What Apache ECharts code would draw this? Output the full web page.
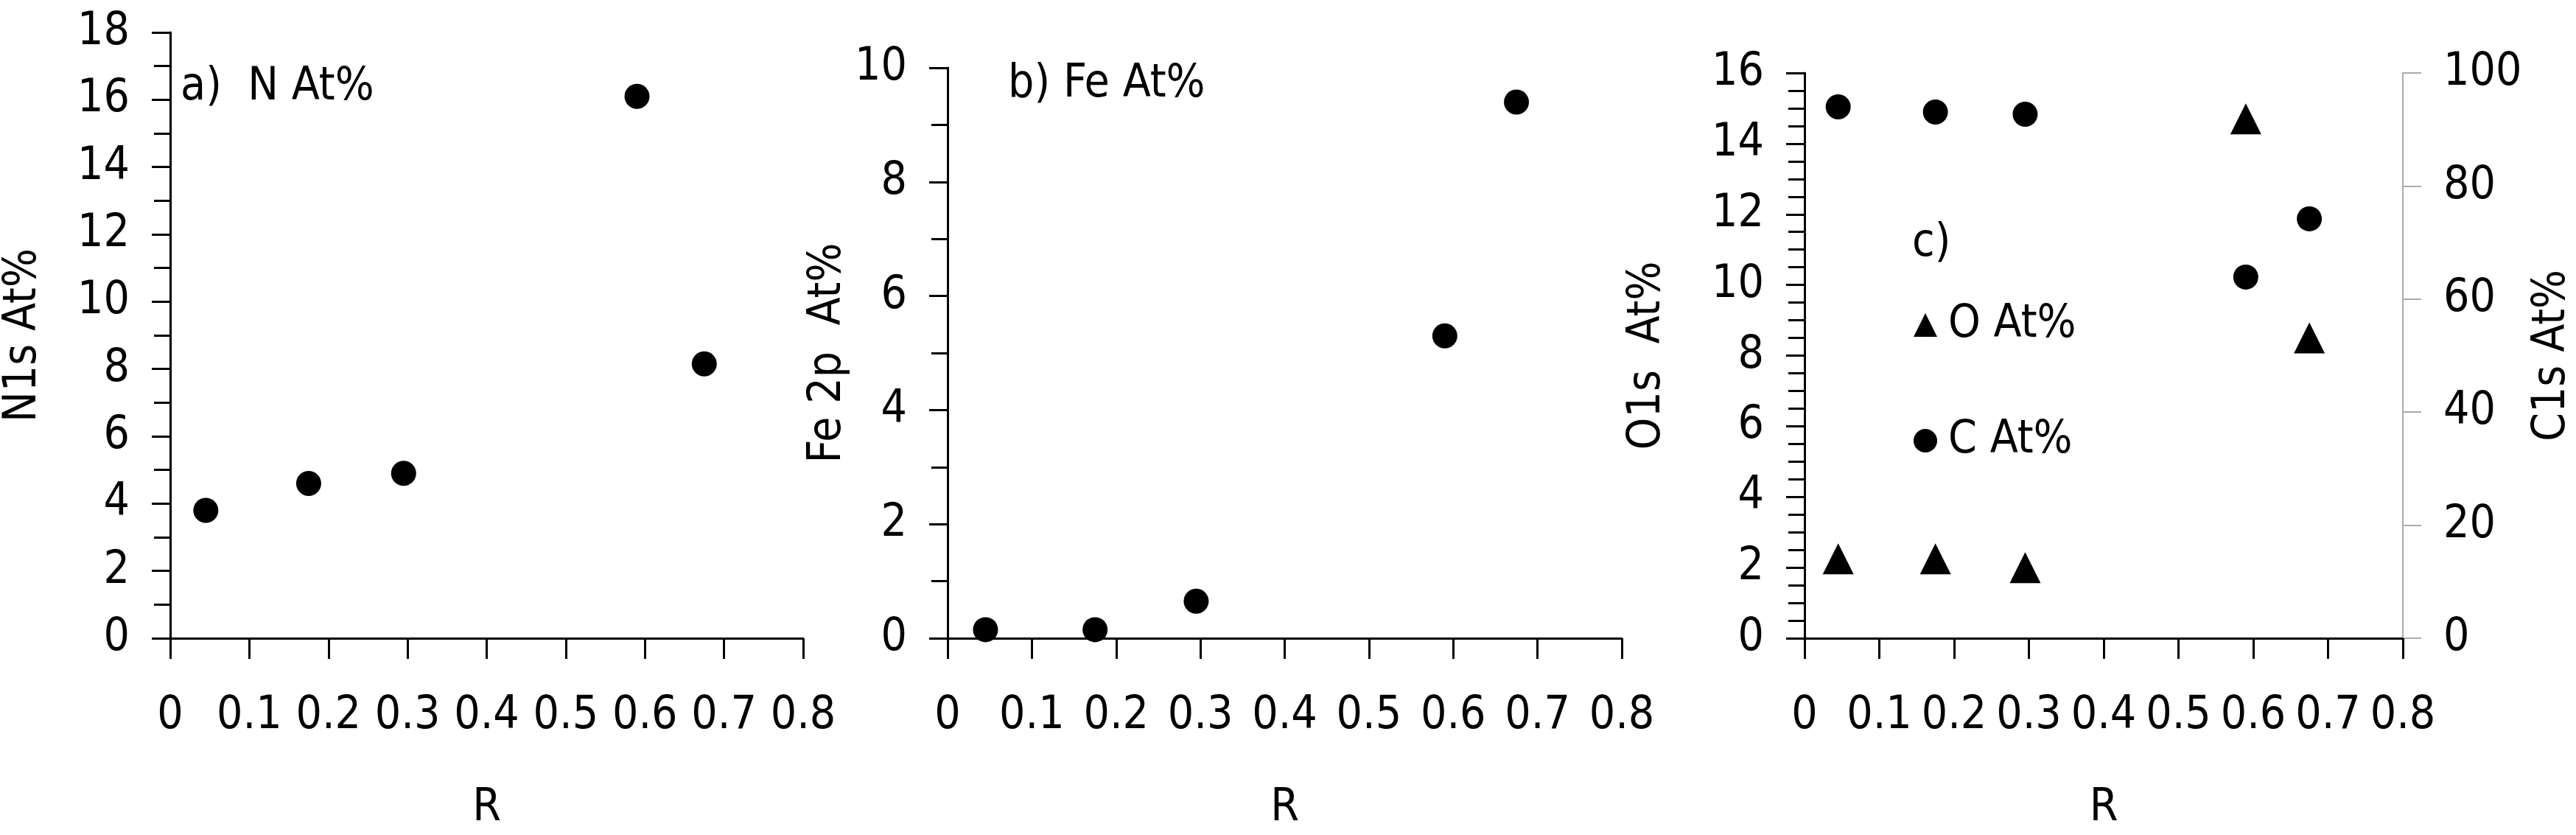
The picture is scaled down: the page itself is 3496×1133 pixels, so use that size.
<!DOCTYPE html>
<html><head><meta charset="utf-8">
<script src="https://cdn.jsdelivr.net/npm/echarts@6/dist/echarts.min.js"></script>
<style>html,body{margin:0;padding:0;background:#fff}#c{width:3496px;height:1133px}</style>
</head><body><div id="c"></div>
<script>
const R = [0.045, 0.175, 0.295, 0.59, 0.675];
const nAt = [3.8, 4.6, 4.9, 16.1, 8.15];
const feAt = [0.15, 0.15, 0.65, 5.3, 9.4];
const oAt = [2.25, 2.25, 2.0, 14.7, 8.5];
const cAt = [94, 93.1, 92.7, 63.9, 74.2];
const xTicks = [0,0.1,0.2,0.3,0.4,0.5,0.6,0.7,0.8];

const F = '"Liberation Sans Narrow","DejaVu Sans Condensed",Arial,sans-serif';
const FS = 62;
const black = '#000';
const pair = (xs, ys) => xs.map((x, i) => [x, ys[i]]);
const ms = {color:black, opacity:1};

function xAxis(i){
  return {gridIndex:i, type:'value', min:0, max:0.8, interval:0.1, name:'R', nameLocation:'middle', nameGap:200,
    nameTextStyle:{fontFamily:F,fontSize:FS,color:black},
    axisLine:{onZero:false,lineStyle:{color:black,width:3}},
    axisTick:{show:true,length:28,lineStyle:{color:black,width:3}},
    axisLabel:{fontFamily:F,fontSize:FS,color:black,margin:75,formatter:v=>String(+v.toFixed(1))},
    splitLine:{show:false}};
}
function yAxis(i,max,interval,name,gap,minorSplit){
  return {gridIndex:i, type:'value', min:0, max:max, interval:interval, name:name, nameLocation:'middle', nameGap:gap,
    nameTextStyle:{fontFamily:F,fontSize:FS,color:black},
    axisLine:{show:true,lineStyle:{color:black,width:3}},
    axisTick:{show:true,length:25,lineStyle:{color:black,width:3}},
    minorTick:{show:true,splitNumber:minorSplit,length:22,lineStyle:{color:black,width:3}},
    axisLabel:{fontFamily:F,fontSize:FS,color:black,margin:55},
    splitLine:{show:false}};
}
const grids = [
  {left:210, top:44, width:880, height:836},
  {left:1286, top:92, width:915, height:788},
  {left:2449, top:99, width:834, height:781}
];
const ax = [xAxis(0), xAxis(1), xAxis(2)];
const ay = [
  yAxis(0,18,2,'N1s At%',168,2),
  yAxis(1,10,2,'Fe 2p  At%',131,2),
  yAxis(2,16,2,'O1s  At%',182,4),
  {gridIndex:2, type:'value', position:'right', min:0, max:100, interval:20, name:'C1s At%', nameLocation:'middle', nameGap:172,
   nameRotate:90,
   nameTextStyle:{fontFamily:F,fontSize:FS,color:black},
   axisLine:{show:true,lineStyle:{color:'#aaa',width:2}},
   axisTick:{show:true,length:25,lineStyle:{color:'#aaa',width:2}},
   axisLabel:{fontFamily:F,fontSize:FS,color:black,margin:55},
   splitLine:{show:false}}
];
const opt = {
  animation:false, backgroundColor:'#fff',
  grid:grids, xAxis:ax, yAxis:ay,
  legend:{left:2592, top:405, orient:'vertical', itemGap:95, itemWidth:32, itemHeight:32,
    textStyle:{fontFamily:F,fontSize:FS,color:black,padding:[0,0,0,10]},
    data:[{name:'O At%',icon:'triangle'},{name:'C At%',icon:'circle'}]},
  graphic:[
    {type:'text',left:245,top:88,style:{text:'a)  N At%',font:FS+'px '+F,fill:black}},
    {type:'text',left:1368,top:84,style:{text:'b) Fe At%',font:FS+'px '+F,fill:black}},
    {type:'text',left:2595,top:300,style:{text:'c)',font:FS+'px '+F,fill:black}}
  ],
  series:[
    {type:'scatter',xAxisIndex:0,yAxisIndex:0,data:pair(R,nAt),symbol:'circle',symbolSize:34,itemStyle:ms},
    {type:'scatter',xAxisIndex:1,yAxisIndex:1,data:pair(R,feAt),symbol:'circle',symbolSize:34,itemStyle:ms},
    {name:'O At%',type:'scatter',xAxisIndex:2,yAxisIndex:2,data:pair(R,oAt),symbol:'triangle',symbolSize:42,itemStyle:ms},
    {name:'C At%',type:'scatter',xAxisIndex:2,yAxisIndex:3,data:pair(R,cAt),symbol:'circle',symbolSize:34,itemStyle:ms}
  ]
};
echarts.init(document.getElementById('c')).setOption(opt);
</script></body></html>
